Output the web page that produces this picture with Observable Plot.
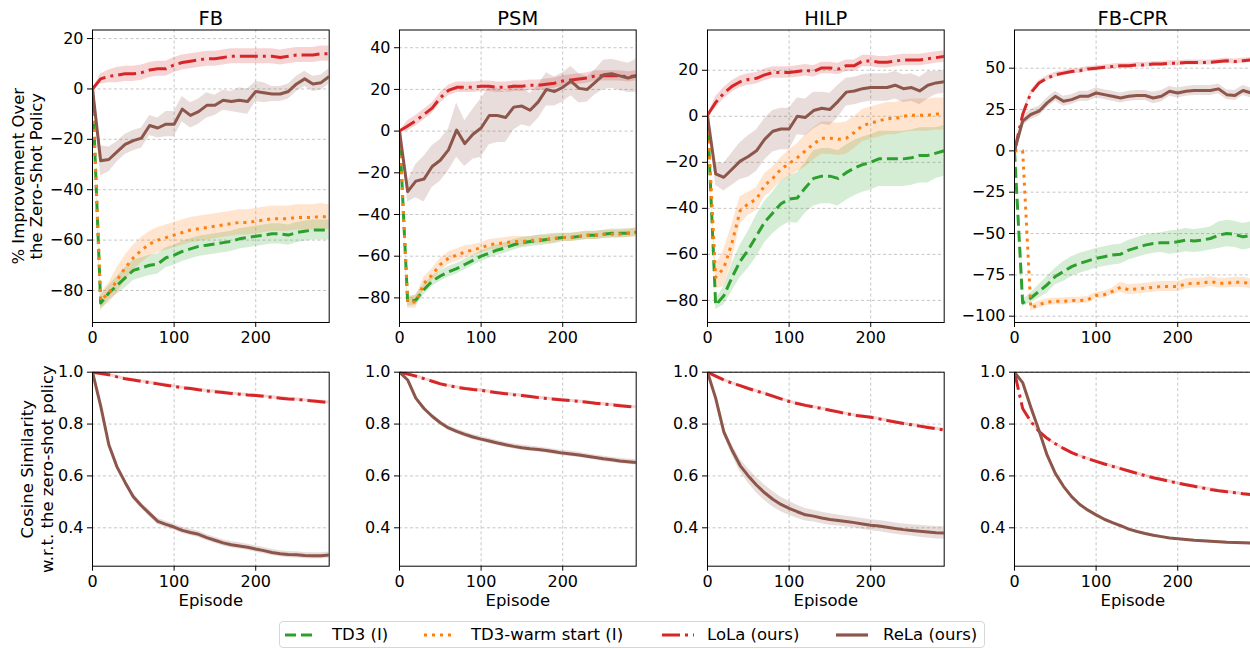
<!DOCTYPE html>
<html>
<head>
<meta charset="utf-8">
<script src="https://cdn.jsdelivr.net/npm/d3@7"></script>
<script src="https://cdn.jsdelivr.net/npm/@observablehq/plot@0.6"></script>
<style>
  html, body { margin: 0; padding: 0; background: #fff; }
  #root { position: relative; width: 1250px; height: 649px; overflow: hidden; font-family: "DejaVu Sans", sans-serif; color: #000; }
  #root svg { position: absolute; }
  .legend { position: absolute; left: 279px; top: 621px; width: 706px; height: 27px; border: 1px solid #d6d6d6; border-radius: 4px; box-sizing: border-box; background: #fff; }
  .legend .lab { position: absolute; top: 2px; font-size: 16.5px; white-space: nowrap; line-height: 21px; }
  .legend svg { position: absolute; top: 4px; }
</style>
</head>
<body>
<div id="root"></div>
<script>
// ---------------- data ----------------
const panels = ["FB", "PSM", "HILP", "FB-CPR"];
const methods = ["TD3 (I)", "TD3-warm start (I)", "LoLa (ours)", "ReLa (ours)"];
const episodes = [0,10,20,30,40,50,60,70,80,90,100,110,120,130,140,150,160,170,180,190,200,210,220,230,240,250,260,270,280,290];

// % improvement over the zero-shot policy (mean, and half-width of shaded band)
const fbTD3   = [0,-85,-81,-78,-75,-72,-71,-70,-69.5,-67,-66,-64.5,-63.5,-62.5,-62,-61.5,-61,-60.5,-59.5,-59,-58.5,-58,-57.5,-57.5,-58,-57,-56.5,-56,-56,-56];
const fbTD3sd = [0,3,3,3.5,4,4,4,4,4,4,4,4,4,4,4,4,4,4,4,4,4,4,4,4,4,4,4,4,4,4];
const fbWarm  = [0,-84,-81,-76,-71,-67,-64,-61.5,-60,-59,-58,-57,-56,-55.5,-55,-54.5,-54,-53.5,-53,-53,-52.5,-52,-51.5,-51.5,-51.5,-51,-51,-51,-50.5,-51];
const fbWarmsd= [0,3,4,5,5,5,5,5,5,5,5,5,5,5,5,5,5,5,5,5,5,5,5,5,5,5,5,5,5,5];
const fbLoLa  = [0,4,5,5.5,6,6,6.5,7.5,8,8,9.5,10.5,11,11.5,12,12,12.5,13,13,13,13,13,13,12.5,13,13.5,13.5,13.5,14,14];
const fbLoLasd= [0,2,2.5,3,3,3,3,3,3,3,3,3,3,3,3,3,3,3,3,3,3,3,3,3,3,3,3,3,3,3];
const fbReLa  = [0,-28.5,-28,-25,-22,-20.5,-19.5,-14.5,-15.5,-14,-14,-8,-10.5,-9,-6.5,-6.5,-4.5,-5,-4.5,-5,-1,-1.5,-2,-2,-1,2,4,2,2.5,5];
const fbReLasd= [0,6,5,4,4,4,4,4,4,5,5,5,5,5,5,4,4,4,5,5,4,4,3,3,3,3,3,3,3,3];

const psmTD3   = [0,-82,-81,-76,-72,-69.5,-67.5,-66,-64,-62,-60,-58.5,-57,-56,-54.5,-53.5,-53,-52.5,-52,-51.5,-51,-51,-50.5,-50,-50,-49.5,-49,-49,-49,-48.5];
const psmTD3sd = [0,2,2.5,2.5,2.5,2.5,2.5,2.5,2.5,2.5,2.5,2.5,2.5,2.5,2.5,2.5,2.5,2.5,2.5,2.5,2,2,2,2,2,2,2,2,2,2];
const psmWarm  = [0,-82,-82,-73,-69,-64,-61,-59.5,-58,-57,-56,-54.5,-54,-53.5,-53,-53,-52.5,-52,-52,-51.5,-51,-51,-50.5,-50,-50,-49.5,-49.5,-49.5,-49,-48.5];
const psmWarmsd= [0,3,3,3,3,3,3,3,3,2.5,2.5,2.5,2.5,2.5,2.5,2.5,2,2,2,2,2,2,2,2,2,2,2,2,2,2];
const psmLoLa  = [0,2.5,5,8,11,16,19.5,21,21,21,21.5,21.5,21,21,21.5,21.5,22,22,22.5,23,24,24.5,25,25.5,26.5,26.5,26.5,26.5,26,26.5];
const psmLoLasd= [0,2.5,2.5,2.5,2.5,2.5,2.5,2.5,2.5,2.5,2.5,2.5,2.5,2.5,2.5,2.5,2.5,2.5,2.5,2.5,2.5,2.5,2.5,2.5,2.5,2.5,2.5,2.5,2.5,2.5];
const psmReLa  = [0,-29,-24,-23,-17,-14,-9,0.5,-6,-1.5,1.5,7.5,7.5,6.5,11.5,12,10,14,20,19,21,24,20.5,20,23.5,27,27.5,26.5,25.5,26.5];
const psmReLasd= [0,5,8,11,10,10,10,13,11,12,14,14,13,12,11,9,8,8,8,7,7,7,7,6,6,7,7,7,7,8];

const hilpTD3   = [0,-82,-78,-70,-63,-58,-52,-46,-42,-38,-36,-35.5,-31,-27,-26,-26,-27,-24.5,-22.5,-21,-20,-18.5,-18.5,-18.5,-18.5,-18,-17,-17,-16,-15];
const hilpTD3sd = [0,2,4,6,7,8,9,9,9,10,10,11,11,12,12,12,12,12,12,12,12,12,12,12,12,12,12,12,11,11];
const hilpWarm  = [0,-70,-66,-55,-41,-38,-36,-30,-27,-23,-20.5,-18,-15,-12,-9.5,-9.5,-10,-9.5,-7,-4,-3,-2,-1,-1,0,0.5,0.5,0.5,1,1];
const hilpWarmsd= [0,5,8,8,6,5,5,5,5,5,6,6,7,7,7,7,7,7,7,7,7,7,7,7,7,7,7,7,7,7];
const hilpLoLa  = [0.5,6,10,13,15,16,16.5,18,19,19,19,19.5,20,19.5,21,21,20.5,22,22,24,24,23.5,23.5,24,24.5,24.5,24.5,25,25.5,26];
const hilpLoLasd= [0,2.5,2.5,2.5,2.5,2.5,2.5,2.5,2.5,2.5,2.5,2.5,2.5,2.5,2.5,2.5,2.5,2.5,2.5,2.5,2.5,2.5,2.5,2.5,2.5,2.5,2.5,2.5,2.5,2.5];
const hilpReLa  = [0,-25,-26.5,-23,-19.5,-17.5,-15,-10,-6.5,-5.5,-5.5,0,-0.5,2.5,3.5,3,6.5,10.5,11,12,12.5,12.5,12.5,13.5,12,12.5,11,13.5,14.5,15];
const hilpReLasd= [0,5,6,7,8,9,9,9,9,9,9,8,8,8,7,7,7,6,6,6,6,6,6,6,6,6,6,6,5,5];

const cprTD3   = [0,-92,-89,-85,-81,-76,-73,-70,-68,-66.5,-65,-64,-63,-62.5,-60,-58.5,-57,-56,-55.5,-55.5,-55,-54,-54.5,-54,-53,-51,-50,-50.5,-52,-51];
const cprTD3sd = [0,2,3,4,5,5,6,6,6,6,6,6,6,6,6,6,6,6,6,7,7,7,7,7,7,8,8,8,8,8];
const cprWarm  = [0,0,-95,-93,-91.5,-91,-91,-90.5,-90.5,-90,-87.5,-87,-85,-82.5,-84,-83.5,-83,-82.5,-82,-82,-82,-80.5,-80,-80,-79,-80,-80,-79.5,-79.5,-80.5];
const cprWarmsd= [0,0,2,2,2,2,2,2,2,2,2,2,2,3,3,3,3,3,3,3,3,3,3,3,3,3,3,3,3,3];
const cprLoLa  = [0,22,35,41,44,46,47,48,48.5,49.5,50,50.5,51,51.5,51.5,52,52,52.5,52.5,53,53,53.5,53.5,53.5,53.5,54,54.5,54,54.5,55];
const cprLoLasd= [0,1.5,1.5,1.5,1.5,1.5,1.5,1.5,1.5,1.5,1.5,1.5,1.5,1.5,1.5,1.5,1.5,1.5,1.5,1.5,1.5,1.5,1.5,1.5,1.5,1.5,1.5,1.5,1.5,1.5];
const cprReLa  = [0,18,22,24,29,33,30,31,33,33,35,34,33,32,33,33.5,33.5,32,33,36,35,36,36.5,36.5,36.5,37.5,34,33.5,36.5,35];
const cprReLasd= [0,3,3,3,3,3,3,3,3,3,3,3,3,3,3,3,3,3.5,3.5,3,3,3,3,3,3,3,3,3,3,3];

// Cosine similarity w.r.t. the zero-shot policy
const fbCosLoLa   = [1.0,0.995,0.99,0.982,0.975,0.97,0.965,0.96,0.955,0.95,0.945,0.94,0.937,0.932,0.928,0.925,0.922,0.918,0.915,0.912,0.91,0.907,0.903,0.9,0.897,0.895,0.892,0.889,0.886,0.883];
const fbCosReLa   = [1.0,0.87,0.72,0.635,0.575,0.52,0.485,0.455,0.425,0.413,0.403,0.39,0.382,0.375,0.362,0.352,0.342,0.335,0.33,0.325,0.318,0.312,0.305,0.3,0.297,0.296,0.293,0.292,0.292,0.295];
const fbCosReLasd = [0,0.006,0.008,0.01,0.01,0.012,0.012,0.012,0.012,0.012,0.012,0.012,0.012,0.012,0.012,0.012,0.012,0.012,0.012,0.012,0.012,0.012,0.012,0.012,0.012,0.012,0.012,0.012,0.012,0.012];
const psmCosLoLa  = [1.0,0.993,0.985,0.975,0.965,0.955,0.948,0.942,0.937,0.933,0.93,0.925,0.921,0.917,0.913,0.91,0.906,0.902,0.899,0.896,0.893,0.89,0.887,0.884,0.88,0.877,0.874,0.871,0.868,0.865];
const psmCosReLa  = [1.0,0.97,0.9,0.86,0.83,0.805,0.785,0.772,0.76,0.75,0.742,0.735,0.727,0.72,0.714,0.709,0.705,0.702,0.698,0.693,0.688,0.685,0.681,0.676,0.671,0.666,0.662,0.658,0.655,0.652];
const psmCosReLasd= [0,0.004,0.006,0.008,0.008,0.008,0.009,0.009,0.01,0.01,0.01,0.01,0.01,0.01,0.01,0.01,0.01,0.01,0.01,0.01,0.01,0.01,0.01,0.01,0.01,0.01,0.01,0.01,0.01,0.01];
const hilpCosLoLa = [1.0,0.985,0.97,0.958,0.948,0.937,0.927,0.918,0.908,0.897,0.887,0.879,0.872,0.866,0.86,0.853,0.847,0.84,0.834,0.83,0.826,0.82,0.814,0.808,0.802,0.797,0.792,0.787,0.782,0.777];
const hilpCosReLa = [1.0,0.9,0.77,0.7,0.64,0.6,0.565,0.535,0.51,0.49,0.475,0.462,0.45,0.445,0.438,0.432,0.428,0.424,0.42,0.415,0.41,0.407,0.402,0.397,0.393,0.39,0.387,0.384,0.381,0.38];
const hilpCosReLasd=[0,0.01,0.015,0.02,0.024,0.027,0.03,0.03,0.03,0.028,0.027,0.025,0.024,0.023,0.022,0.022,0.021,0.021,0.021,0.021,0.021,0.021,0.022,0.022,0.022,0.022,0.023,0.023,0.024,0.024];
const cprCosLoLa  = [1.0,0.86,0.81,0.772,0.745,0.724,0.706,0.69,0.677,0.666,0.656,0.646,0.637,0.628,0.619,0.61,0.601,0.593,0.586,0.579,0.572,0.566,0.56,0.554,0.548,0.543,0.539,0.535,0.531,0.528];
const cprCosReLa  = [1.0,0.96,0.865,0.775,0.68,0.61,0.56,0.52,0.49,0.468,0.45,0.433,0.42,0.408,0.395,0.386,0.378,0.371,0.366,0.361,0.358,0.355,0.352,0.35,0.348,0.346,0.344,0.343,0.342,0.341];
const cosLoLasd   = [0,0.005,0.006,0.006,0.006,0.006,0.006,0.006,0.006,0.006,0.006,0.006,0.006,0.006,0.006,0.006,0.006,0.006,0.006,0.006,0.006,0.006,0.006,0.006,0.006,0.006,0.006,0.006,0.006,0.006];
const cosSmallsd  = [0,0.003,0.004,0.004,0.004,0.004,0.004,0.004,0.004,0.004,0.004,0.004,0.004,0.004,0.004,0.004,0.004,0.004,0.004,0.004,0.004,0.004,0.004,0.004,0.004,0.004,0.004,0.004,0.004,0.004];

// tick labels
const xTicks = [0, 100, 200];
const improvTicks = [
  [-80,-60,-40,-20,0,20],
  [-80,-60,-40,-20,0,20,40],
  [-80,-60,-40,-20,0,20],
  [-100,-75,-50,-25,0,25,50]
];
const improvDomains = [[-92.7,23.4],[-91.8,48.5],[-89.6,37.5],[-103.8,73.1]];
const cosTicks = [0.4, 0.6, 0.8, 1.0];
const cosDomain = [0.252, 1.0];

const improvSeries = [
  [[fbTD3,fbTD3sd],[fbWarm,fbWarmsd],[fbLoLa,fbLoLasd],[fbReLa,fbReLasd]],
  [[psmTD3,psmTD3sd],[psmWarm,psmWarmsd],[psmLoLa,psmLoLasd],[psmReLa,psmReLasd]],
  [[hilpTD3,hilpTD3sd],[hilpWarm,hilpWarmsd],[hilpLoLa,hilpLoLasd],[hilpReLa,hilpReLasd]],
  [[cprTD3,cprTD3sd],[cprWarm,cprWarmsd],[cprLoLa,cprLoLasd],[cprReLa,cprReLasd]]
];
const cosSeries = [
  [null,null,[fbCosLoLa,cosLoLasd],[fbCosReLa,fbCosReLasd]],
  [null,null,[psmCosLoLa,cosLoLasd],[psmCosReLa,psmCosReLasd]],
  [null,null,[hilpCosLoLa,cosLoLasd],[hilpCosReLa,hilpCosReLasd]],
  [null,null,[cprCosLoLa,cosLoLasd],[cprCosReLa,cosSmallsd]]
];

// ---------------- styles & layout ----------------
const colors = ["#2ca02c", "#ff7f0e", "#d62728", "#8c564b"];
const dashes = ["11,5", "3,5", "18,5,3,5", null];
const colLeft = [92, 399.3, 707.3, 1014.3];
const frameW = 236.7;
const gridStyle = {stroke: "#b0b0b0", strokeOpacity: 0.9, strokeWidth: 0.8, strokeDasharray: "3,2.5"};
const root = document.getElementById("root");

function table(mean, sd) {
  return episodes.map((e, i) => ({x: e, y: mean[i], lo: mean[i] - sd[i], hi: mean[i] + sd[i]}));
}

function makePanel({col, top, mt, frameH, mb, yDomain, yTicks, yFormat, series, title, xlabel, ylabels}) {
  const ml = col === 0 ? 92 : 60;
  const mr = 12;
  const marks = [
    Plot.gridX(xTicks, gridStyle),
    Plot.gridY(yTicks, gridStyle)
  ];
  const tabs = series.map(s => s ? table(s[0], s[1]) : null);
  tabs.forEach((t, k) => { if (t) marks.push(Plot.areaY(t, {x: "x", y1: "lo", y2: "hi", fill: colors[k], fillOpacity: 0.2, clip: true})); });
  tabs.forEach((t, k) => { if (t) marks.push(Plot.lineY(t, {x: "x", y: "y", stroke: colors[k], strokeWidth: 3, strokeDasharray: dashes[k], strokeLinecap: "butt", strokeLinejoin: "round", clip: true})); });
  marks.push(Plot.frame({stroke: "#000", strokeWidth: 1}));
  if (title) marks.push(Plot.text([title], {frameAnchor: "top", lineAnchor: "bottom", dy: -5, fontSize: 19.5}));
  if (xlabel) marks.push(Plot.text([xlabel], {frameAnchor: "bottom", lineAnchor: "middle", dy: 35, fontSize: 16.5}));
  if (ylabels) ylabels.forEach(([txt, dx]) => marks.push(Plot.text([txt], {frameAnchor: "left", textAnchor: "middle", lineAnchor: "middle", rotate: -90, dx, fontSize: 16.5})));
  const svg = Plot.plot({
    width: ml + frameW + mr,
    height: mt + frameH + mb,
    marginLeft: ml, marginRight: mr, marginTop: mt, marginBottom: mb,
    style: {fontFamily: "'DejaVu Sans', sans-serif", fontSize: "16px", color: "#000", background: "transparent", overflow: "visible"},
    x: {domain: [0, 290], ticks: xTicks, tickSize: 5, tickPadding: 4, label: null},
    y: {domain: yDomain, ticks: yTicks, tickFormat: yFormat, tickSize: 5, tickPadding: 4, label: null},
    marks
  });
  svg.style.left = (colLeft[col] - ml) + "px";
  svg.style.top = top + "px";
  root.appendChild(svg);
}

panels.forEach((name, c) => {
  makePanel({
    col: c, top: 0, mt: 29.5, frameH: 292.5, mb: 30,
    yDomain: improvDomains[c], yTicks: improvTicks[c], yFormat: undefined,
    series: improvSeries[c], title: name,
    ylabels: c === 0 ? [["% Improvement Over", -74], ["the Zero-Shot Policy", -56]] : null
  });
  makePanel({
    col: c, top: 340, mt: 31.7, frameH: 194, mb: 45,
    yDomain: cosDomain, yTicks: cosTicks, yFormat: d3.format(".1f"),
    series: cosSeries[c], xlabel: "Episode",
    ylabels: c === 0 ? [["Cosine Similarity", -65], ["w.r.t. the zero-shot policy", -45]] : null
  });
});

// ---------------- legend ----------------
const legend = document.createElement("div");
legend.className = "legend";
const swatchX = [4, 143, 381, 555];
const labelX = [52, 191, 427, 603];
methods.forEach((m, k) => {
  const sw = d3.create("svg").attr("width", 34).attr("height", 18).style("left", swatchX[k] + "px");
  sw.append("line").attr("x1", 1).attr("x2", 33).attr("y1", 9).attr("y2", 9)
    .attr("stroke", colors[k]).attr("stroke-width", 3.2).attr("stroke-dasharray", dashes[k]);
  legend.appendChild(sw.node());
  const lab = document.createElement("div");
  lab.className = "lab";
  lab.style.left = labelX[k] + "px";
  lab.textContent = m;
  legend.appendChild(lab);
});
root.appendChild(legend);
</script>
</body>
</html>
